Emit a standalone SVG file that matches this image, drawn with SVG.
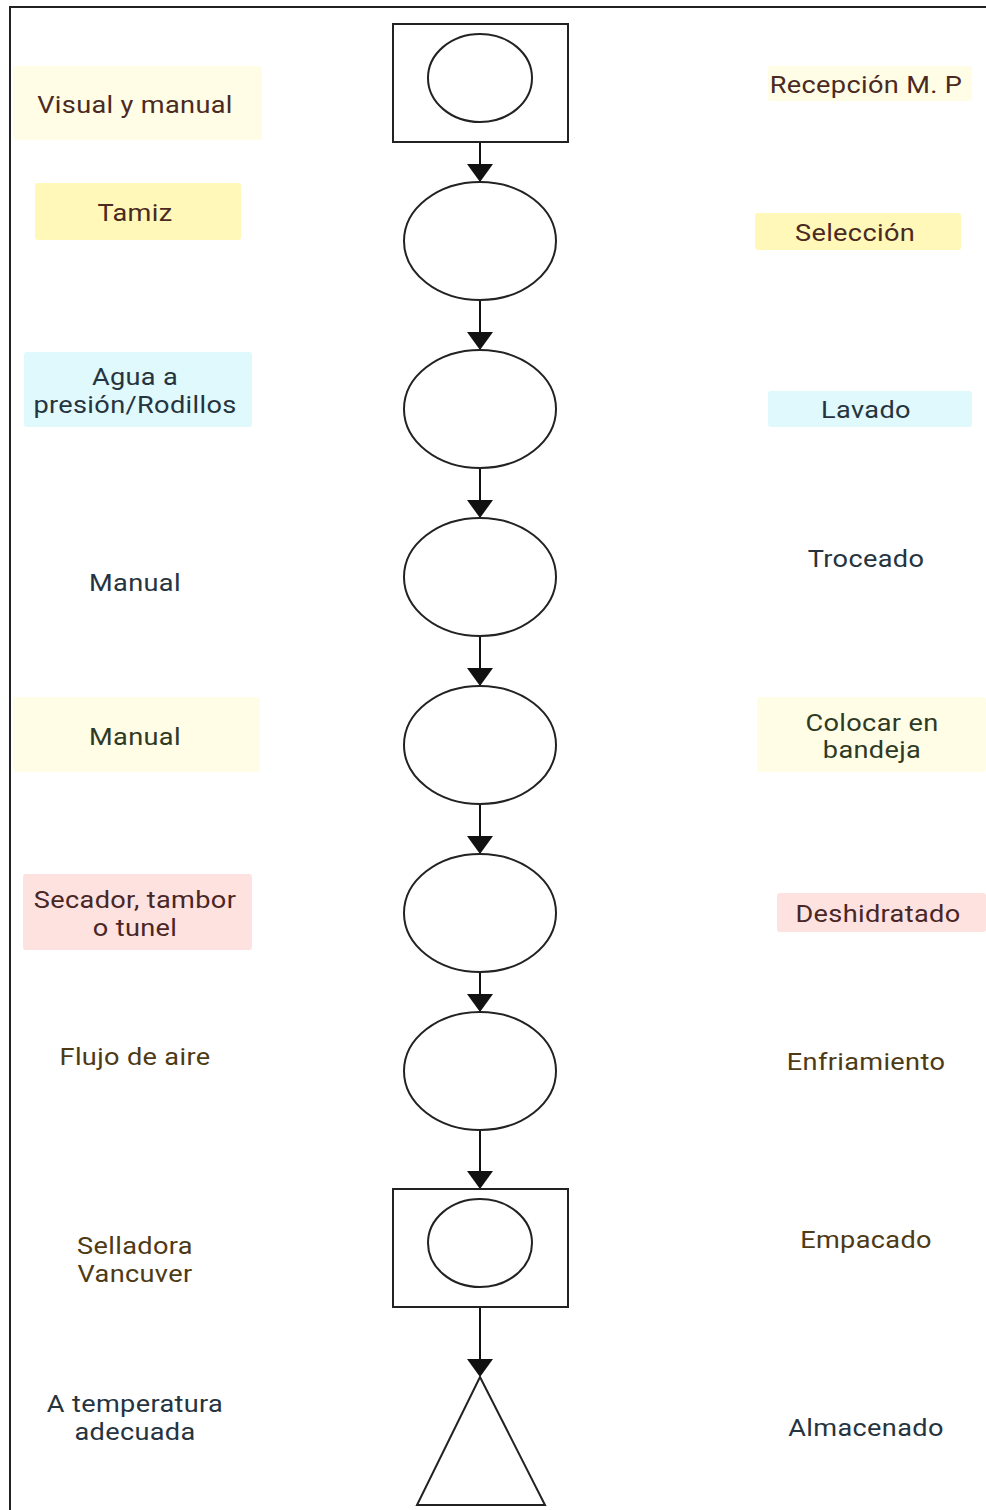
<svg xmlns="http://www.w3.org/2000/svg" width="986" height="1510" viewBox="0 0 986 1510">
  <style>
    .shape { fill: #ffffff; stroke: #222222; stroke-width: 2; }
    .conn { stroke: #111111; stroke-width: 2; fill: none; }
    .head { fill: #111111; }
    .lbl { font-family: Roboto, "Liberation Sans", sans-serif; font-size: 23px; text-anchor: middle; letter-spacing: 0.3px; }
    .y1 { fill: #fffde6; }
    .y2 { fill: #fff8b8; }
    .cy { fill: #e0f9fc; }
    .pk { fill: #fde2df; }
    .t-br { fill: #4a2a22; }
    .t-sl { fill: #263440; }
    .t-gr { fill: #2f3a25; }
    .t-rd { fill: #4a2626; }
    .t-ol { fill: #4e3a14; }
  </style>

  <rect x="0" y="0" width="986" height="1510" fill="#ffffff"/>
  <!-- outer frame -->
  <path d="M10,1510 L10,7 L986,7" fill="none" stroke="#222222" stroke-width="2"/>

  <!-- connectors: vertical flow line with filled arrowheads -->
  <g id="connectors">
    <line class="conn" x1="480" y1="142" x2="480" y2="164"/>
    <path class="head" d="M467,164 L493,164 L480,182 Z"/>
    <line class="conn" x1="480" y1="300" x2="480" y2="332"/>
    <path class="head" d="M467,332 L493,332 L480,350 Z"/>
    <line class="conn" x1="480" y1="468" x2="480" y2="500"/>
    <path class="head" d="M467,500 L493,500 L480,518 Z"/>
    <line class="conn" x1="480" y1="636" x2="480" y2="668"/>
    <path class="head" d="M467,668 L493,668 L480,686 Z"/>
    <line class="conn" x1="480" y1="804" x2="480" y2="836"/>
    <path class="head" d="M467,836 L493,836 L480,854 Z"/>
    <line class="conn" x1="480" y1="972" x2="480" y2="994"/>
    <path class="head" d="M467,994 L493,994 L480,1012 Z"/>
    <line class="conn" x1="480" y1="1130" x2="480" y2="1171"/>
    <path class="head" d="M467,1171 L493,1171 L480,1189 Z"/>
    <line class="conn" x1="480" y1="1307" x2="480" y2="1359"/>
    <path class="head" d="M467,1359 L493,1359 L480,1377 Z"/>
  </g>

  <!-- process symbols -->
  <g id="step-recepcion">
    <rect class="shape" x="393" y="24" width="175" height="118"/>
    <ellipse class="shape" cx="480" cy="78" rx="52" ry="44"/>
  </g>
  <g id="step-seleccion"><ellipse class="shape" cx="480" cy="241" rx="76" ry="59"/></g>
  <g id="step-lavado"><ellipse class="shape" cx="480" cy="409" rx="76" ry="59"/></g>
  <g id="step-troceado"><ellipse class="shape" cx="480" cy="577" rx="76" ry="59"/></g>
  <g id="step-bandeja"><ellipse class="shape" cx="480" cy="745" rx="76" ry="59"/></g>
  <g id="step-deshidratado"><ellipse class="shape" cx="480" cy="913" rx="76" ry="59"/></g>
  <g id="step-enfriamiento"><ellipse class="shape" cx="480" cy="1071" rx="76" ry="59"/></g>
  <g id="step-empacado">
    <rect class="shape" x="393" y="1189" width="175" height="118"/>
    <ellipse class="shape" cx="480" cy="1243" rx="52" ry="44"/>
  </g>
  <g id="step-almacenado">
    <path class="shape" d="M480,1377 L545,1505 L417,1505 Z"/>
  </g>

  <!-- equipment / method labels (left) -->
  <g id="eq-visual">
    <rect class="y1" x="13" y="66" width="249" height="74" rx="3"/>
    <text class="lbl t-br" transform="translate(135,113) scale(1.18,1)">Visual y manual</text>
  </g>
  <g id="eq-tamiz">
    <rect class="y2" x="35" y="183" width="206" height="57" rx="3"/>
    <text class="lbl t-br" transform="translate(135,221) scale(1.18,1)">Tamiz</text>
  </g>
  <g id="eq-agua">
    <rect class="cy" x="24" y="352" width="228" height="75" rx="3"/>
    <text class="lbl t-sl" transform="translate(135,385) scale(1.18,1)"><tspan x="0" y="0">Agua a</tspan><tspan x="0" y="28">presión/Rodillos</tspan></text>
  </g>
  <g id="eq-manual-1">
    <text class="lbl t-sl" transform="translate(135,591) scale(1.18,1)">Manual</text>
  </g>
  <g id="eq-manual-2">
    <rect class="y1" x="13" y="697" width="247" height="75" rx="3"/>
    <text class="lbl t-gr" transform="translate(135,745) scale(1.18,1)">Manual</text>
  </g>
  <g id="eq-secador">
    <rect class="pk" x="23" y="874" width="229" height="76" rx="3"/>
    <text class="lbl t-rd" transform="translate(135,908) scale(1.18,1)"><tspan x="0" y="0">Secador, tambor</tspan><tspan x="0" y="28">o tunel</tspan></text>
  </g>
  <g id="eq-flujo">
    <text class="lbl t-ol" transform="translate(135,1065) scale(1.18,1)">Flujo de aire</text>
  </g>
  <g id="eq-selladora">
    <text class="lbl t-ol" transform="translate(135,1254) scale(1.18,1)"><tspan x="0" y="0">Selladora</tspan><tspan x="0" y="28">Vancuver</tspan></text>
  </g>
  <g id="eq-temperatura">
    <text class="lbl t-sl" transform="translate(135,1412) scale(1.18,1)"><tspan x="0" y="0">A temperatura</tspan><tspan x="0" y="28">adecuada</tspan></text>
  </g>

  <!-- operation labels (right) -->
  <g id="op-recepcion">
    <rect class="y1" x="768" y="66" width="204" height="35" rx="3"/>
    <text class="lbl t-br" transform="translate(866,93) scale(1.18,1)">Recepción M. P</text>
  </g>
  <g id="op-seleccion">
    <rect class="y2" x="755" y="213" width="206" height="37" rx="3"/>
    <text class="lbl t-br" transform="translate(855,241) scale(1.18,1)">Selección</text>
  </g>
  <g id="op-lavado">
    <rect class="cy" x="768" y="391" width="204" height="36" rx="3"/>
    <text class="lbl t-sl" transform="translate(866,418) scale(1.18,1)">Lavado</text>
  </g>
  <g id="op-troceado">
    <text class="lbl t-sl" transform="translate(866,567) scale(1.18,1)">Troceado</text>
  </g>
  <g id="op-bandeja">
    <rect class="y1" x="757" y="697" width="229" height="75" rx="3"/>
    <text class="lbl t-gr" transform="translate(872,731) scale(1.18,1)"><tspan x="0" y="0">Colocar en</tspan><tspan x="0" y="27">bandeja</tspan></text>
  </g>
  <g id="op-deshidratado">
    <rect class="pk" x="777" y="893" width="209" height="39" rx="3"/>
    <text class="lbl t-rd" transform="translate(878,922) scale(1.18,1)">Deshidratado</text>
  </g>
  <g id="op-enfriamiento">
    <text class="lbl t-ol" transform="translate(866,1070) scale(1.18,1)">Enfriamiento</text>
  </g>
  <g id="op-empacado">
    <text class="lbl t-ol" transform="translate(866,1248) scale(1.18,1)">Empacado</text>
  </g>
  <g id="op-almacenado">
    <text class="lbl t-sl" transform="translate(866,1436) scale(1.18,1)">Almacenado</text>
  </g>
</svg>
